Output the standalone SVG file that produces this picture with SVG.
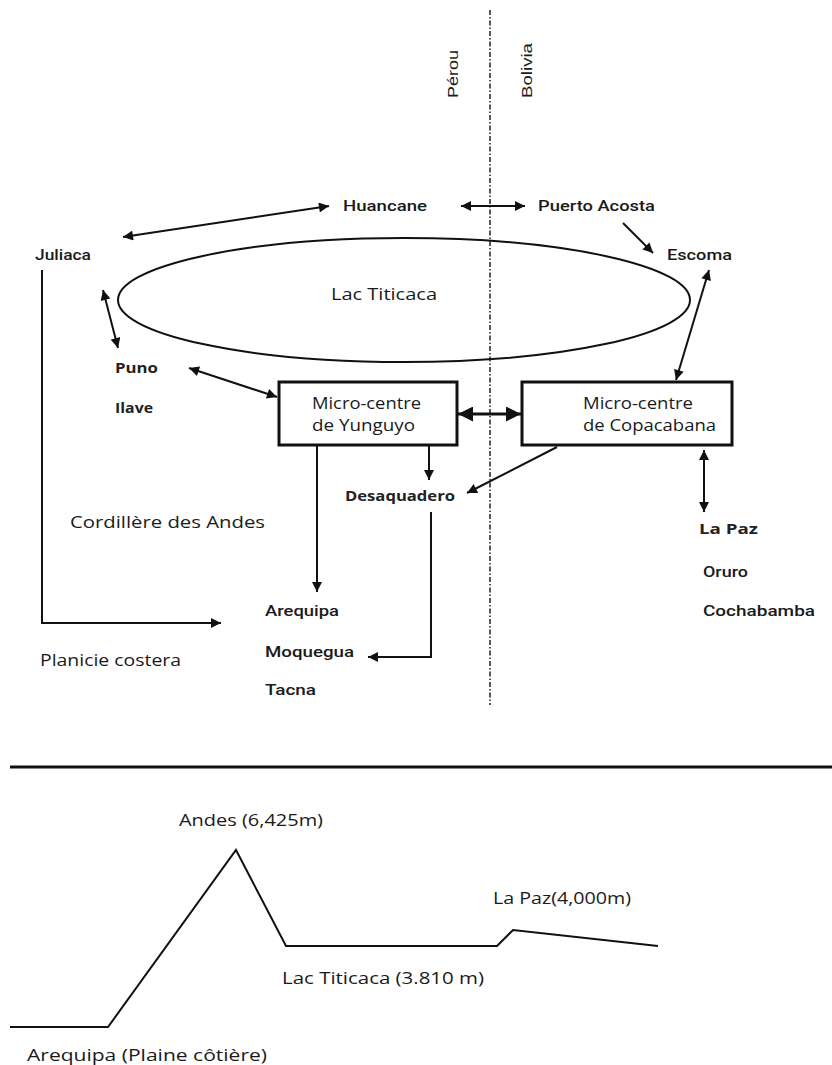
<svg xmlns="http://www.w3.org/2000/svg" width="832" height="1065" viewBox="0 0 832 1065">
<style>
.c{font-family:Roboto,"Liberation Sans",Arial,sans-serif;font-size:14px;fill:#1a1a1a;font-weight:500}
.n{font-family:"Open Sans","Noto Sans",sans-serif;font-size:16px;fill:#1a1a1a}
.b{font-family:"Open Sans","Noto Sans",sans-serif;font-size:14px;fill:#222;font-weight:bold}
.r{font-family:"Liberation Sans",Arial,sans-serif;font-size:14px;fill:#1a1a1a}
.ln{fill:none;stroke:#111;stroke-width:2}
.box{fill:#fff;stroke:#111;stroke-width:3}
</style>
<defs>
<marker id="ah" viewBox="0 0 10 10" refX="10" refY="5" markerWidth="6" markerHeight="5" orient="auto-start-reverse" markerUnits="strokeWidth"><path d="M0,0 L10,5 L0,10 z" fill="#111"/></marker>
<marker id="ahb" viewBox="0 0 10 10" refX="10" refY="5" markerWidth="5.5" markerHeight="5" orient="auto-start-reverse" markerUnits="strokeWidth"><path d="M0,0 L10,5 L0,10 z" fill="#111"/></marker>
</defs>
<rect width="832" height="1065" fill="#fff"/>
<g id="border">
<line x1="490" y1="10" x2="490" y2="705" stroke="#222" stroke-width="1.5" stroke-dasharray="5 2 1.5 2"/>
<text class="r" transform="translate(458,98) rotate(-90)" textLength="48" lengthAdjust="spacingAndGlyphs">Pérou</text>
<text class="r" transform="translate(532,98) rotate(-90)" textLength="55" lengthAdjust="spacingAndGlyphs">Bolivia</text>
</g>
<g id="lake"><ellipse cx="404" cy="300" rx="286" ry="62" fill="none" stroke="#111" stroke-width="2"/>
<text class="n" x="331" y="300" textLength="106" lengthAdjust="spacingAndGlyphs" font-size="17">Lac Titicaca</text></g>
<g id="huancane"><text class="c" x="343" y="211" textLength="84" lengthAdjust="spacingAndGlyphs">Huancane</text></g>
<g id="puerto"><text class="c" x="538" y="211" textLength="117" lengthAdjust="spacingAndGlyphs">Puerto Acosta</text></g>
<g id="juliaca"><text class="c" x="35" y="260" textLength="56" lengthAdjust="spacingAndGlyphs">Juliaca</text></g>
<g id="escoma"><text class="c" x="667" y="260" textLength="65" lengthAdjust="spacingAndGlyphs">Escoma</text></g>
<g id="puno"><text class="b" x="115" y="373" textLength="43" lengthAdjust="spacingAndGlyphs">Puno</text></g>
<g id="ilave"><text class="b" x="115" y="413" textLength="38" lengthAdjust="spacingAndGlyphs">Ilave</text></g>
<g id="yunguyo"><rect class="box" x="279" y="382" width="178" height="63"/>
<text class="n" x="312" y="409" textLength="109" lengthAdjust="spacingAndGlyphs">Micro-centre</text>
<text class="n" x="312" y="431" textLength="103" lengthAdjust="spacingAndGlyphs">de Yunguyo</text></g>
<g id="copacabana"><rect class="box" x="522" y="382" width="210" height="63"/>
<text class="n" x="583" y="409" textLength="110" lengthAdjust="spacingAndGlyphs">Micro-centre</text>
<text class="n" x="583" y="431" textLength="133" lengthAdjust="spacingAndGlyphs">de Copacabana</text></g>
<g id="desaquadero"><text class="b" x="345" y="501" textLength="110" lengthAdjust="spacingAndGlyphs">Desaquadero</text></g>
<g id="cordillere"><text class="n" x="70" y="528" textLength="195" lengthAdjust="spacingAndGlyphs" font-size="17">Cordillère des Andes</text></g>
<g id="lapaz"><text class="b" x="699" y="534" textLength="59" lengthAdjust="spacingAndGlyphs">La Paz</text></g>
<g id="oruro"><text class="c" x="703" y="577" textLength="45" lengthAdjust="spacingAndGlyphs">Oruro</text></g>
<g id="cochabamba"><text class="c" x="703" y="616" textLength="112" lengthAdjust="spacingAndGlyphs">Cochabamba</text></g>
<g id="arequipa"><text class="c" x="265" y="616" textLength="74" lengthAdjust="spacingAndGlyphs">Arequipa</text></g>
<g id="moquegua"><text class="c" x="265" y="657" textLength="89" lengthAdjust="spacingAndGlyphs">Moquegua</text></g>
<g id="tacna"><text class="c" x="265" y="695" textLength="51" lengthAdjust="spacingAndGlyphs">Tacna</text></g>
<g id="planicie"><text class="n" x="40" y="666" textLength="141" lengthAdjust="spacingAndGlyphs" font-size="17">Planicie costera</text></g>
<g id="connectors">
<line class="ln" x1="123" y1="237" x2="329" y2="206" marker-start="url(#ah)" marker-end="url(#ah)"/>
<line class="ln" x1="461" y1="206" x2="525" y2="206" marker-start="url(#ah)" marker-end="url(#ah)"/>
<line class="ln" x1="623" y1="223" x2="653" y2="253" marker-end="url(#ah)"/>
<line class="ln" x1="103" y1="290" x2="118" y2="348" marker-start="url(#ah)" marker-end="url(#ah)"/>
<line class="ln" x1="189" y1="368" x2="277" y2="397" marker-start="url(#ah)" marker-end="url(#ah)"/>
<line x1="458" y1="414" x2="521" y2="414" stroke="#111" stroke-width="3" marker-start="url(#ahb)" marker-end="url(#ahb)"/>
<line class="ln" x1="709" y1="270" x2="676" y2="380" marker-start="url(#ah)" marker-end="url(#ah)"/>
<line class="ln" x1="317" y1="445" x2="317" y2="592" marker-end="url(#ah)"/>
<line class="ln" x1="429" y1="445" x2="429" y2="480" marker-end="url(#ah)"/>
<line class="ln" x1="557" y1="447" x2="467" y2="493" marker-end="url(#ah)"/>
<line class="ln" x1="704" y1="450" x2="704" y2="512" marker-start="url(#ah)" marker-end="url(#ah)"/>
<polyline class="ln" points="42,270 42,623 221,623" marker-end="url(#ah)"/>
<polyline class="ln" points="431,512 431,657 368,657" marker-end="url(#ah)"/>
</g>
<g id="profile">
<line x1="10" y1="767" x2="832" y2="767" stroke="#111" stroke-width="3"/>
<polyline class="ln" points="10,1027 108,1027 236,850 286,946 497,946 513,930 658,946"/>
<text class="n" x="179" y="826" textLength="144" lengthAdjust="spacingAndGlyphs" font-size="17">Andes (6,425m)</text>
<text class="n" x="493" y="904" textLength="138" lengthAdjust="spacingAndGlyphs" font-size="17">La Paz(4,000m)</text>
<text class="n" x="282" y="984" textLength="202" lengthAdjust="spacingAndGlyphs" font-size="17">Lac Titicaca (3.810 m)</text>
<text class="n" x="27" y="1061" textLength="240" lengthAdjust="spacingAndGlyphs" font-size="17">Arequipa (Plaine côtière)</text>
</g>
</svg>
